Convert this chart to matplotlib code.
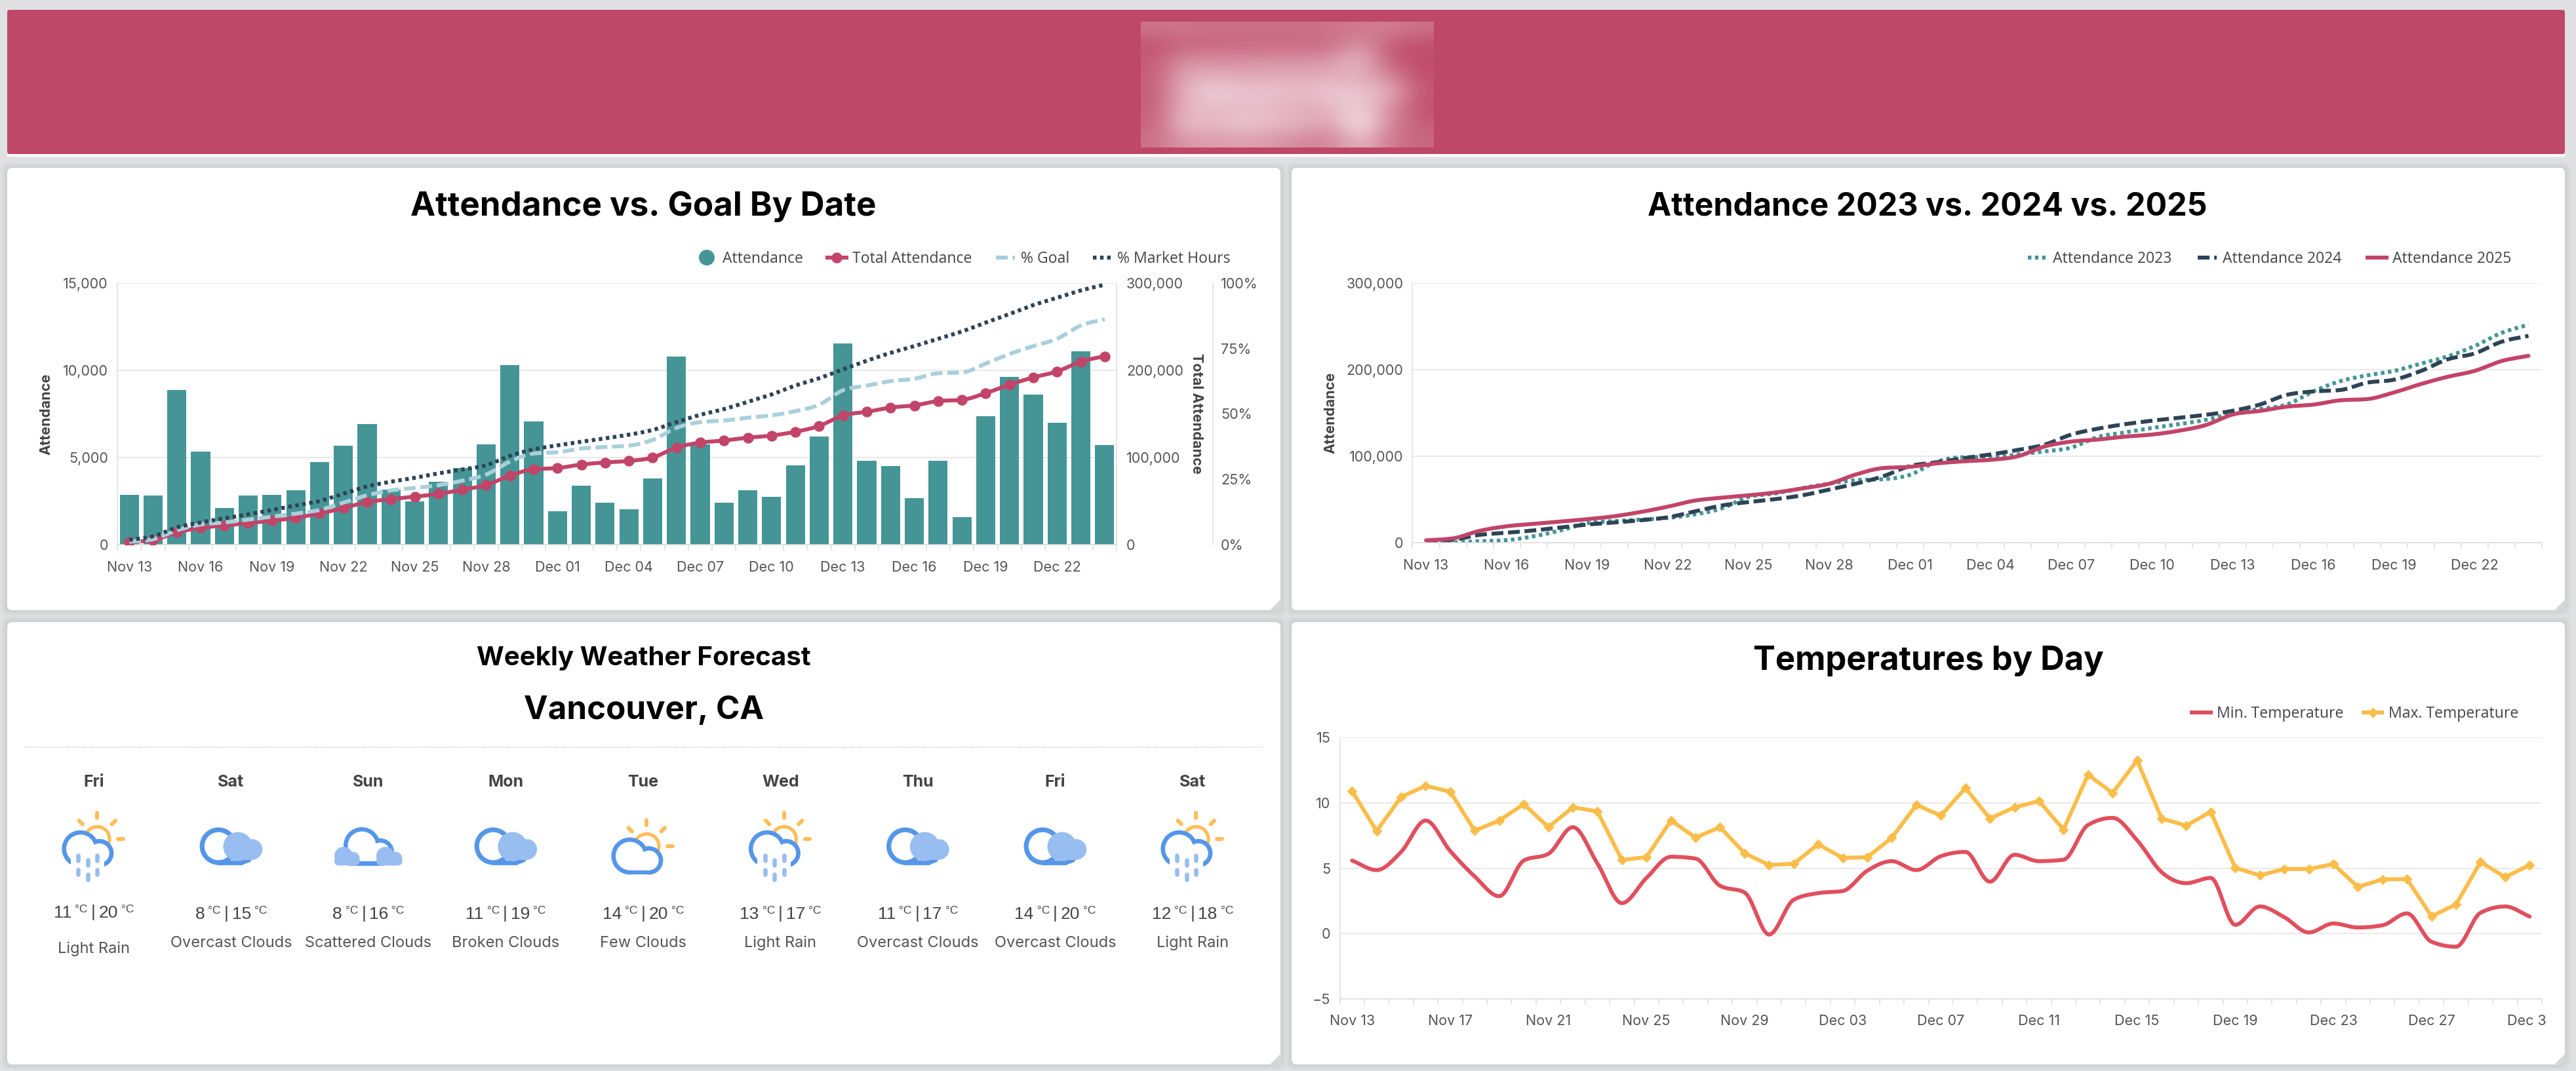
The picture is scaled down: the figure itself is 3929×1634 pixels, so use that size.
import numpy as np
import matplotlib
matplotlib.use("Agg")
import matplotlib.pyplot as plt
from matplotlib.lines import Line2D
from matplotlib.patches import Circle, FancyBboxPatch, Polygon, Rectangle
from matplotlib.ticker import FuncFormatter
from matplotlib.transforms import Bbox

W, H = 3930, 1634

# ---------- data ----------
attendance_dates = ["Nov 13", "Nov 16", "Nov 19", "Nov 22", "Nov 25", "Nov 28", "Dec 01",
                    "Dec 04", "Dec 07", "Dec 10", "Dec 13", "Dec 16", "Dec 19", "Dec 22"]
temperature_dates = ["Nov 13", "Nov 17", "Nov 21", "Nov 25", "Nov 29", "Dec 03", "Dec 07",
                     "Dec 11", "Dec 15", "Dec 19", "Dec 23", "Dec 27", "Dec 31"]

daily_attendance = [2855, 2790, 8870, 5340, 2100, 2790, 2840, 3110, 4740, 5680, 6900, 3150,
                    2450, 3610, 4400, 5760, 10300, 7050, 1900, 3390, 2385, 2030, 3800,
                    10770, 5760, 2385, 3110, 2720, 4535, 6180, 11520, 4800, 4485, 2650,
                    4800, 1560, 7370, 9620, 8600, 6990, 11100, 5690]
total_attendance = [2700, 5000, 13800, 19000, 21800, 24500, 27200, 30600, 35600, 41700, 48700,
                    52000, 54800, 58100, 62800, 68200, 79000, 86300, 87700, 91700, 94100,
                    95800, 99800, 111200, 116900, 119300, 122600, 125000, 129400, 136000,
                    148200, 152200, 157200, 159600, 164600, 166000, 173700, 183400, 191800,
                    198600, 210000, 216000]
pct_goal = [1, 2, 5.4, 7.6, 8.4, 9.5, 10.6, 11.8, 13.2, 16, 18.8, 20.7, 21.6, 22.7, 24.4, 26.7,
            31.7, 34.8, 35.3, 36.7, 37.3, 37.8, 40, 44.6, 46.8, 47.4, 48.5, 49.4, 51, 53.5,
            59, 60.8, 62.5, 63.4, 65.5, 65.8, 69.2, 72.9, 75.9, 78.7, 83.8, 86.2]
pct_market_hours = [1.7, 3.1, 6.5, 8.4, 10, 11.5, 13.2, 14.9, 16.6, 19.4, 22.2, 24, 25.5, 27.2,
                    28.7, 30.3, 33.9, 36.4, 37.9, 39.3, 40.6, 42, 43.8, 46.8, 49.6, 51.8, 54.6,
                    57.4, 60.8, 63.6, 67, 70.3, 73.3, 75.9, 78.7, 81.5, 84.9, 88.2, 91.6, 94.4,
                    97.2, 99.4]

attendance_2023 = [500, 500, 1700, 3000, 7400, 14200, 22600, 25000, 26700, 28700, 32800, 39600,
                   53000, 57000, 63200, 68300, 72400, 73400, 78500, 93700, 98800, 98800, 102000,
                   105500, 110000, 122400, 127500, 132600, 137000, 142000, 149500, 154600,
                   159600, 174800, 186700, 193400, 198500, 207000, 215400, 227300, 242500, 252000]
attendance_2024 = [1700, 3400, 9100, 11500, 14200, 17600, 21000, 23300, 26000, 29400, 36200,
                   43000, 47000, 50400, 54800, 61500, 68300, 76800, 88600, 93000, 97700, 102000,
                   107200, 113300, 125000, 131900, 137000, 141000, 144400, 147800, 152500,
                   159600, 170800, 174800, 176500, 185000, 188400, 198500, 212000, 218800,
                   232300, 239100]
attendance_2025 = total_attendance

temp_min = [5.59, 4.86, 6.25, 8.65, 6.32, 4.37, 2.86, 5.59, 6.1, 8.14, 5.37, 2.33, 4.26, 5.88,
            5.74, 3.66, 3.15, -0.07, 2.59, 3.1, 3.26, 4.81, 5.54, 4.86, 5.92, 6.25, 3.97, 6.03,
            5.54, 5.65, 8.31, 8.85, 7.14, 4.7, 3.86, 4.26, 0.67, 2.08, 1.26, 0.09, 0.78, 0.47,
            0.64, 1.55, -0.62, -1.0, 1.6, 2.08, 1.31]
temp_max = [10.9, 7.85, 10.45, 11.3, 10.85, 7.87, 8.65, 9.9, 8.14, 9.65, 9.35, 5.63, 5.85, 8.65,
            7.34, 8.14, 6.14, 5.25, 5.34, 6.83, 5.79, 5.85, 7.32, 9.84, 9.02, 11.13, 8.8, 9.65,
            10.13, 7.96, 12.15, 10.75, 13.24, 8.8, 8.25, 9.31, 5.03, 4.46, 4.94, 4.94, 5.32,
            3.57, 4.15, 4.17, 1.33, 2.24, 5.48, 4.32, 5.25]

forecast_days = ["Fri", "Sat", "Sun", "Mon", "Tue", "Wed", "Thu", "Fri", "Sat"]
forecast_low = [11, 8, 8, 11, 14, 13, 11, 14, 12]
forecast_high = [20, 15, 16, 19, 20, 17, 17, 20, 18]
forecast_desc = ["Light Rain", "Overcast Clouds", "Scattered Clouds", "Broken Clouds", "Few Clouds",
                 "Light Rain", "Overcast Clouds", "Overcast Clouds", "Light Rain"]

# Soft logo block in the banner: white opacity on a coarse grid.
logo_opacity = [
    [.24, .24, .22, .22, .22, .22, .24, .26, .30, .22],
    [.06, .16, .16, .18, .18, .18, .20, .44, .10, .03],
    [.10, .42, .38, .40, .42, .42, .44, .66, .12, .02],
    [.12, .54, .58, .54, .56, .54, .56, .56, .36, .04],
    [.12, .60, .76, .68, .68, .64, .72, .68, .60, .08],
    [.12, .62, .62, .62, .64, .52, .60, .76, .40, .04],
    [.14, .68, .60, .72, .62, .60, .46, .94, .34, .12],
    [.22, .44, .46, .48, .44, .34, .32, .64, .26, .16],
]

# ---------- palette ----------
C_BG = "#DFE0E2"
C_BANNER = "#BE4868"
C_TEAL = "#459596"
C_ROSE = "#C24468"
C_GOAL = "#A9CFDB"
C_NAVY = "#2D4356"
C_MIN = "#E14F5E"
C_MAX = "#FBBD4A"
C_TICK = "#555555"
C_AXLBL = "#444444"
C_GRID = "#E9E9EA"
C_AXIS = "#DDDDDE"
C_BLUE = "#5596E8"
C_LIGHT = "#98BDF0"
C_SUN = "#FDBE5A"

TITLE_FONT = "Inter"
TICK_FONT = "Inter"
LEGEND_FONT = "Open Sans"
TEMP_FONT = "Liberation Sans"
LINE_PX = 6


def px(v):
    """Pixels to points at the figure's dpi."""
    return v * 72 / 100


def smooth(values, n=14):
    """Monotone cubic through evenly spaced values; returns x and y for drawing."""
    y = np.asarray(values, float)
    s = np.diff(y)
    m = np.zeros_like(y)
    for i in range(1, len(y) - 1):
        p = (s[i - 1] + s[i]) / 2
        m[i] = (np.sign(s[i - 1]) + np.sign(s[i])) * min(abs(s[i - 1]), abs(s[i]), 0.5 * abs(p))
    m[0], m[-1] = s[0], s[-1]
    xs, ys = [], []
    for i in range(len(y) - 1):
        t = np.linspace(0, 1, n, endpoint=False)
        h00 = 2 * t**3 - 3 * t**2 + 1
        h10 = t**3 - 2 * t**2 + t
        h01 = -2 * t**3 + 3 * t**2
        h11 = t**3 - t**2
        xs.append(i + t)
        ys.append(h00 * y[i] + h10 * m[i] + h01 * y[i + 1] + h11 * m[i + 1])
    xs.append([len(y) - 1.0])
    ys.append([y[-1]])
    return np.concatenate(xs), np.concatenate(ys)


fig = plt.figure(figsize=(W / 100, H / 100), dpi=100, facecolor=C_BG)

# Pixel-space layer holding the cards, headings, legends and forecast.
page = fig.add_axes([0, 0, 1, 1], zorder=0)
page.set_xlim(0, W)
page.set_ylim(H, 0)
page.axis("off")


def card(x0, y0, x1, y1, notch=True):
    for grow in range(1, 10):
        page.add_patch(FancyBboxPatch((x0 - grow, y0 - grow), x1 - x0 + 2 * grow, y1 - y0 + 2 * grow,
                                      boxstyle="round,pad=0,rounding_size=10", fc="black", ec="none",
                                      alpha=0.009, zorder=1))
    page.add_patch(FancyBboxPatch((x0, y0), x1 - x0, y1 - y0, boxstyle="round,pad=0,rounding_size=8",
                                  fc="white", ec="none", zorder=2))
    if notch:
        page.add_patch(Polygon([(x1 + 1, y1 + 1), (x1 - 17, y1 + 1), (x1 + 1, y1 - 17)],
                               fc="#D6D7D9", ec="none", zorder=3))


card(11, 256, 1953, 931)
card(1970, 256, 3912, 931)
card(11, 949, 1953, 1624)
card(1970, 949, 3912, 1624)

# Banner
page.add_patch(Rectangle((11, 235), 3901, 3.5, fc="white", ec="none", zorder=2))
page.add_patch(FancyBboxPatch((11, 15), 3901, 220, boxstyle="round,pad=0,rounding_size=4",
                              fc=C_BANNER, ec="none", zorder=3))
rgba = np.ones((len(logo_opacity), len(logo_opacity[0]), 4))
rgba[..., 3] = logo_opacity
page.imshow(rgba, extent=(1740, 2187, 225, 33), interpolation="bicubic", aspect="auto", zorder=4)
page.set_xlim(0, W)
page.set_ylim(H, 0)


def heading(x, y, text, size):
    page.text(x, y, text, ha="center", va="center", fontsize=size, fontweight="bold",
              fontfamily=TITLE_FONT, color="black", zorder=5)


heading(981, 315, "Attendance vs. Goal By Date", 36.8)
heading(2940, 315, "Attendance 2023 vs. 2024 vs. 2025", 34.8)
heading(2941, 1009, "Temperatures by Day", 36.5)
heading(982, 1004, "Weekly Weather Forecast", 29)
heading(982, 1084, "Vancouver, CA", 35.4)

page.plot([38, 1926], [1140, 1140], color="#C9C9C9", lw=px(1.5), ls=(0, (1, 1)), zorder=5)


def legend_text(x, y, text):
    page.text(x, y + 2, text, ha="left", va="center", fontsize=16.6, fontfamily=LEGEND_FONT,
              color=C_AXLBL, zorder=5)


DASH = (0, (3.0, 1.2))
DOT = (0, (0.9, 0.9))

LEG1 = 393
page.add_patch(Circle((1078, LEG1), 12, fc=C_TEAL, ec="none", zorder=5))
legend_text(1102, LEG1, "Attendance")
page.add_line(Line2D([1262, 1291], [LEG1, LEG1], color=C_ROSE, lw=px(LINE_PX), zorder=5))
page.add_line(Line2D([1276.5], [LEG1], color=C_ROSE, marker="o", ms=px(15), lw=0, zorder=5))
legend_text(1300, LEG1, "Total Attendance")
page.add_line(Line2D([1519, 1548], [LEG1, LEG1], color=C_GOAL, lw=px(LINE_PX), ls=DASH, zorder=5))
legend_text(1557, LEG1, "% Goal")
page.add_line(Line2D([1667, 1695], [LEG1, LEG1], color=C_NAVY, lw=px(LINE_PX), ls=DOT, zorder=5))
legend_text(1704, LEG1, "% Market Hours")

page.add_line(Line2D([3093, 3121], [LEG1, LEG1], color=C_TEAL, lw=px(LINE_PX), ls=DOT, zorder=5))
legend_text(3131, LEG1, "Attendance 2023")
page.add_line(Line2D([3352, 3381], [LEG1, LEG1], color=C_NAVY, lw=px(LINE_PX), ls=DASH, zorder=5))
legend_text(3390, LEG1, "Attendance 2024")
page.add_line(Line2D([3611, 3640], [LEG1, LEG1], color=C_ROSE, lw=px(LINE_PX), zorder=5))
legend_text(3649, LEG1, "Attendance 2025")

LEG3 = 1087
page.add_line(Line2D([3343, 3372], [LEG3, LEG3], color=C_MIN, lw=px(LINE_PX), zorder=5))
legend_text(3381, LEG3, "Min. Temperature")
page.add_line(Line2D([3605, 3633], [LEG3, LEG3], color=C_MAX, lw=px(LINE_PX), zorder=5))
page.add_line(Line2D([3619], [LEG3], color=C_MAX, marker="D", ms=px(10.5), lw=0, zorder=5))
legend_text(3643, LEG3, "Max. Temperature")


def chart_axes(x0, y0, x1, y1):
    ax = fig.add_axes([x0 / W, 1 - y1 / H, (x1 - x0) / W, (y1 - y0) / H], zorder=2)
    ax.patch.set_alpha(0)
    return ax


def style_axis(ax, count, step, labels, pad):
    ax.set_xlim(-0.5, count - 0.5)
    ax.set_xticks(np.arange(count + 1) - 0.5, labels=[])
    ax.set_xticks(np.arange(0, count, step), labels=labels, minor=True)
    ax.tick_params(axis="x", which="major", length=px(9), width=px(1.5), color=C_AXIS)
    ax.tick_params(axis="x", which="minor", length=0, pad=px(pad), labelsize=15.5,
                   labelcolor=C_TICK)
    ax.tick_params(axis="y", length=0, pad=px(14), labelsize=15.5, labelcolor=C_TICK)
    ax.grid(axis="y", color=C_GRID, lw=px(2))
    ax.set_axisbelow(True)
    for side in ("top", "right"):
        ax.spines[side].set_visible(False)
    for side in ("left", "bottom"):
        ax.spines[side].set_color(C_AXIS)
        ax.spines[side].set_linewidth(px(1.5))
    for lab in ax.get_xticklabels(minor=True) + ax.get_yticklabels():
        lab.set_fontfamily(TICK_FONT)


thousands = FuncFormatter(lambda v, _: f"{int(v):,}")


def axis_title(x, y, text, rotation):
    page.text(x, y, text, ha="center", va="center", rotation=rotation, fontsize=15.6,
              fontweight="bold", fontfamily=TITLE_FONT, color=C_AXLBL, zorder=5)


# ---------- attendance vs goal ----------
ax1 = chart_axes(179, 432, 1703, 830.6)
days = np.arange(len(daily_attendance))
ax1.bar(days, daily_attendance, width=0.8, color=C_TEAL, edgecolor="none", zorder=2)
ax1.set_ylim(0, 15000)
ax1.set_yticks([0, 5000, 10000, 15000])
ax1.yaxis.set_major_formatter(thousands)
style_axis(ax1, len(days), 3, attendance_dates, 25)
axis_title(70, 632, "Attendance", 90)

ax1t = ax1.twinx()
ax1t.set_zorder(3)
ax1t.patch.set_alpha(0)
sx, sy = smooth(total_attendance)
ax1t.plot(sx, sy, color=C_ROSE, lw=px(LINE_PX), solid_capstyle="round", zorder=3)
ax1t.plot(days, total_attendance, ls="none", marker="o", ms=px(15), color=C_ROSE, zorder=3)
ax1t.set_ylim(0, 300000)
ax1t.set_yticks([0, 100000, 200000, 300000])
ax1t.yaxis.set_major_formatter(thousands)
ax1t.tick_params(axis="y", length=0, pad=px(15), labelsize=15.5, labelcolor=C_TICK)
for side in ("top", "left", "bottom"):
    ax1t.spines[side].set_visible(False)
ax1t.spines["right"].set_color(C_AXIS)
ax1t.spines["right"].set_linewidth(px(1.5))
for lab in ax1t.get_yticklabels():
    lab.set_fontfamily(TICK_FONT)
axis_title(1825, 631, "Total Attendance", 270)

ax1p = ax1.twinx()
ax1p.set_zorder(4)
ax1p.patch.set_alpha(0)
sx, sy = smooth(pct_goal)
ax1p.plot(sx, sy, color=C_GOAL, lw=px(LINE_PX), ls=DASH)
sx, sy = smooth(pct_market_hours)
ax1p.plot(sx, sy, color=C_NAVY, lw=px(LINE_PX), ls=DOT)
ax1p.set_ylim(0, 100)
ax1p.set_yticks([0, 25, 50, 75, 100], labels=["0%", "25%", "50%", "75%", "100%"])
ax1p.tick_params(axis="y", length=0, pad=px(12), labelsize=15.5, labelcolor=C_TICK)
for side in ("top", "left", "bottom"):
    ax1p.spines[side].set_visible(False)
ax1p.spines["right"].set_position(("outward", px(147)))
ax1p.spines["right"].set_color(C_AXIS)
ax1p.spines["right"].set_linewidth(px(1.5))
for lab in ax1p.get_yticklabels():
    lab.set_fontfamily(TICK_FONT)

# ---------- attendance by year ----------
ax2 = chart_axes(2154.5, 432, 3877, 828)
sx, sy = smooth(attendance_2023)
ax2.plot(sx, sy, color=C_TEAL, lw=px(LINE_PX), ls=DOT)
sx, sy = smooth(attendance_2024)
ax2.plot(sx, sy, color=C_NAVY, lw=px(LINE_PX), ls=DASH)
sx, sy = smooth(attendance_2025)
ax2.plot(sx, sy, color=C_ROSE, lw=px(LINE_PX), solid_capstyle="round")
ax2.set_ylim(0, 300000)
ax2.set_yticks([0, 100000, 200000, 300000])
ax2.yaxis.set_major_formatter(thousands)
style_axis(ax2, len(attendance_2025), 3, attendance_dates, 25)
axis_title(2029, 630, "Attendance", 90)

# ---------- temperatures ----------
ax3 = chart_axes(2043.5, 1125, 3877, 1524.3)
sx, sy = smooth(temp_min)
ax3.plot(sx, sy, color=C_MIN, lw=px(LINE_PX), solid_capstyle="round")
ax3.plot(np.arange(len(temp_max)), temp_max, color=C_MAX, lw=px(LINE_PX), marker="D", ms=px(10.5))
ax3.set_ylim(-5, 15)
ax3.set_yticks([-5, 0, 5, 10, 15])
style_axis(ax3, len(temp_max), 4, temperature_dates, 24)
# The last date label runs past the plot and is cut at the edge of its container.
last_label = ax3.get_xticklabels(minor=True)[-1]
last_label.set_clip_on(True)
last_label.set_clip_box(Bbox([[0, 0], [3883, H]]))


# ---------- weather icons, drawn relative to the centre of each column ----------
def capsule(cx, cy, p0, p1, color, width, zorder=6):
    page.add_line(Line2D([cx + p0[0], cx + p1[0]], [cy + p0[1], cy + p1[1]], color=color,
                         lw=px(width), solid_capstyle="round", zorder=zorder))


def disc(cx, cy, dx, dy, r, color, zorder=6):
    page.add_patch(Circle((cx + dx, cy + dy), r, fc=color, ec="none", zorder=zorder))


def sun_rays_and_ring(cx, cy):
    capsule(cx, cy, (5.3, -40), (5.3, -32), C_SUN, 6)
    capsule(cx, cy, (-22.5, -28), (-17, -22.5), C_SUN, 6)
    capsule(cx, cy, (33, -28), (27.5, -22.5), C_SUN, 6)
    capsule(cx, cy, (37.5, 0), (45, 0), C_SUN, 6)
    page.add_patch(Circle((cx + 5.3, cy), 18.7, fc="white", ec=C_SUN, lw=px(5.2), zorder=6))


def twin_cloud(cx, cy):
    disc(cx, cy, -20.3, 15, 28.3, C_BLUE, 7)
    disc(cx, cy, 8.7, 21.7, 21.7, C_BLUE, 7)
    disc(cx, cy, -20.3, 15, 21.7, "white", 7.1)
    disc(cx, cy, 8.7, 21.7, 15, "white", 7.1)


def icon_rain(cx, cy):
    sun_rays_and_ring(cx, cy)
    twin_cloud(cx, cy)
    page.add_patch(Rectangle((cx - 35, cy + 15), 51, 32, fc="white", ec="none", zorder=7.1))
    for dy in (28.7, 50.3):
        for col, dx in enumerate((-23.7, -9, 5.3)):
            off = 7.5 if col == 1 else 0
            capsule(cx, cy, (dx, dy - 3.8 + off), (dx, dy + 3.8 + off), C_LIGHT, 6.6, 7.2)


def icon_few(cx, cy):
    cy += 11
    sun_rays_and_ring(cx, cy)
    twin_cloud(cx, cy)
    page.add_patch(Rectangle((cx - 20.3, cy + 30), 29, 13.3, fc=C_BLUE, ec="none", zorder=7))
    page.add_patch(Rectangle((cx - 20.3, cy + 20), 29, 16.7, fc="white", ec="none", zorder=7.1))


def icon_overcast(cx, cy):
    page.add_patch(Circle((cx - 19.3, cy + 11), 25, fc="white", ec=C_BLUE, lw=px(7.2), zorder=6))
    capsule(cx, cy, (-19.3, 36), (16, 36), C_BLUE, 7.2)
    capsule(cx, cy, (16, 36), (27, 32), C_BLUE, 7.2)
    disc(cx, cy, 10.3, 11.7, 22.3, C_LIGHT, 7)
    disc(cx, cy, 32, 16, 15.7, C_LIGHT, 7)
    page.add_patch(Rectangle((cx + 10.3, cy + 16), 22, 16, fc=C_LIGHT, ec="none", zorder=7))


def icon_scattered(cx, cy):
    disc(cx, cy, -10, 10, 28, C_BLUE, 6)
    disc(cx, cy, 18, 20, 21, C_BLUE, 6)
    page.add_patch(Rectangle((cx - 30, cy + 22), 50, 19, fc=C_BLUE, ec="none", zorder=6))
    disc(cx, cy, -10, 10, 21.5, "white", 6.1)
    disc(cx, cy, 18, 20, 14.5, "white", 6.1)
    page.add_patch(Rectangle((cx - 30, cy + 15), 52, 19, fc="white", ec="none", zorder=6.1))
    for dx0, dx1 in ((-38, -24), (26, 41)):
        disc(cx, cy, dx0, 26, 14, C_LIGHT, 7)
        disc(cx, cy, dx1, 30, 10.5, C_LIGHT, 7)
        page.add_patch(FancyBboxPatch((cx + dx0 - 14, cy + 26), dx1 - dx0 + 24.5, 14.5,
                                      boxstyle="round,pad=0,rounding_size=7", fc=C_LIGHT, ec="none", zorder=7))


ICON_FOR = {"Light Rain": icon_rain, "Overcast Clouds": icon_overcast, "Broken Clouds": icon_overcast,
            "Scattered Clouds": icon_scattered, "Few Clouds": icon_few}

renderer = fig.canvas.get_renderer()


def temperature_line(cx, y, low, high):
    """Lay out 'low °C | high °C' as runs of two sizes, centred on cx."""
    base = y + 9.5
    runs = [(str(low), 19, 0, 5), ("°C", 12.5, -7, 5), ("|", 19, 0, 5), (str(high), 19, 0, 5), ("°C", 12.5, -7, 0)]
    items, total = [], 0
    for text, size, lift, gap in runs:
        t = page.text(0, base + lift, text, ha="left", va="baseline", fontsize=size,
                      fontfamily=TEMP_FONT, color=C_AXLBL, zorder=6)
        w = t.get_window_extent(renderer).width
        items.append((t, w, gap))
        total += w + gap
    x = cx - total / 2
    for t, w, gap in items:
        t.set_x(x)
        x += w + gap


for col, (day, low, high, desc) in enumerate(zip(forecast_days, forecast_low, forecast_high, forecast_desc)):
    cx = 143 + 209.5 * col
    page.text(cx, 1194, day, ha="center", va="center", fontsize=18, fontweight="bold",
              fontfamily=TITLE_FONT, color=C_AXLBL, zorder=6)
    ICON_FOR[desc](cx, 1280)
    temperature_line(cx, 1390 if col == 0 else 1392, low, high)
    page.text(cx, 1448 if col == 0 else 1439, desc, ha="center", va="center", fontsize=17,
              fontfamily=TICK_FONT, color=C_TICK, zorder=6)

fig.savefig("out.png", dpi=100, facecolor=fig.get_facecolor())
